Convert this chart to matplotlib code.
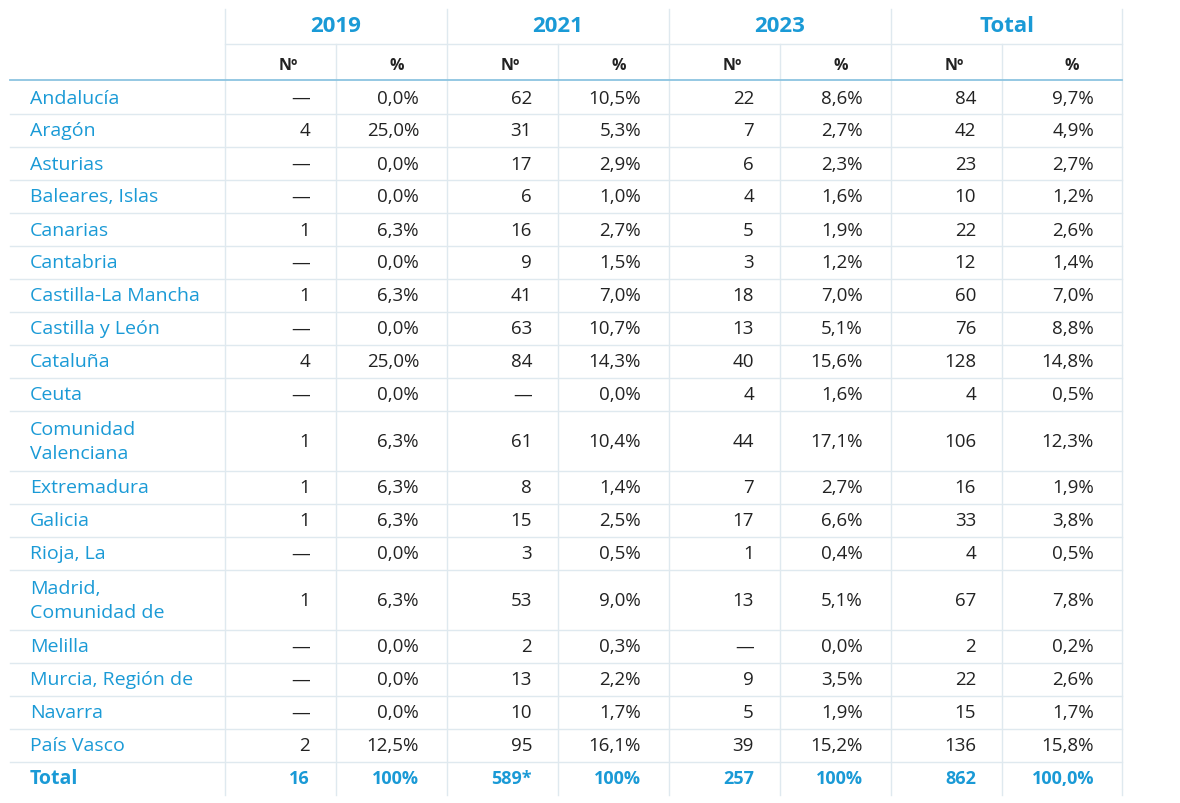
import matplotlib.pyplot as plt

regions = ["Andalucía", "Aragón", "Asturias", "Baleares, Islas", "Canarias", "Cantabria",
           "Castilla-La Mancha", "Castilla y León", "Cataluña", "Ceuta",
           "Comunidad\nValenciana", "Extremadura", "Galicia", "Rioja, La",
           "Madrid,\nComunidad de", "Melilla", "Murcia, Región de", "Navarra", "País Vasco"]
n2019 = ["—", "4", "—", "—", "1", "—", "1", "—", "4", "—", "1", "1", "1", "—", "1", "—", "—", "—", "2"]
p2019 = ["0,0%", "25,0%", "0,0%", "0,0%", "6,3%", "0,0%", "6,3%", "0,0%", "25,0%", "0,0%",
         "6,3%", "6,3%", "6,3%", "0,0%", "6,3%", "0,0%", "0,0%", "0,0%", "12,5%"]
n2021 = ["62", "31", "17", "6", "16", "9", "41", "63", "84", "—", "61", "8", "15", "3", "53", "2", "13", "10", "95"]
p2021 = ["10,5%", "5,3%", "2,9%", "1,0%", "2,7%", "1,5%", "7,0%", "10,7%", "14,3%", "0,0%",
         "10,4%", "1,4%", "2,5%", "0,5%", "9,0%", "0,3%", "2,2%", "1,7%", "16,1%"]
n2023 = ["22", "7", "6", "4", "5", "3", "18", "13", "40", "4", "44", "7", "17", "1", "13", "—", "9", "5", "39"]
p2023 = ["8,6%", "2,7%", "2,3%", "1,6%", "1,9%", "1,2%", "7,0%", "5,1%", "15,6%", "1,6%",
         "17,1%", "2,7%", "6,6%", "0,4%", "5,1%", "0,0%", "3,5%", "1,9%", "15,2%"]
ntot = ["84", "42", "23", "10", "22", "12", "60", "76", "128", "4", "106", "16", "33", "4", "67", "2", "22", "15", "136"]
ptot = ["9,7%", "4,9%", "2,7%", "1,2%", "2,6%", "1,4%", "7,0%", "8,8%", "14,8%", "0,5%",
        "12,3%", "1,9%", "3,8%", "0,5%", "7,8%", "0,2%", "2,6%", "1,7%", "15,8%"]
years = ["2019", "2021", "2023", "Total"]
total_row = ["16", "100%", "589*", "100%", "257", "100%", "862", "100,0%"]

BLUE = "#1a9ad6"
DARK = "#222222"
GRID = "#dfe9ef"
plt.rcParams['font.family'] = ['Open Sans', 'DejaVu Sans']

fig = plt.figure(figsize=(11.8, 8.04), dpi=100)
ax = fig.add_axes([0, 0, 1, 1])
ax.set_xlim(0, 1180)
ax.set_ylim(804, 0)
ax.axis('off')

col_edges = [225, 336, 447, 558, 669, 780, 891, 1002, 1122]
right_pad = [26, 28] * 4

# row boundaries
heights = [60 if "\n" in r else 33 for r in regions] + [33]
bounds = [82]
for h in heights:
    bounds.append(bounds[-1] + h)

# header
for i, y in enumerate(years):
    xc = (col_edges[2 * i] + col_edges[2 * i + 2]) / 2
    ax.text(xc, 27, y, ha='center', va='center', color=BLUE, fontsize=16, fontweight='bold')
ax.plot([225, 1122], [45, 45], color=GRID, lw=1)
for j in range(8):
    ax.text(col_edges[j + 1] - (48 if j % 2 == 0 else 50), 66, "Nº" if j % 2 == 0 else "%",
            ha='center', va='center', color=DARK, fontsize=11.5, fontweight='bold')
for x in col_edges:
    top = 10 if col_edges.index(x) % 2 == 0 else 45
    ax.plot([x, x], [top, bounds[-1]], color=GRID, lw=1)
ax.plot([10, 1122], [81, 81], color="#8cc4e0", lw=1.3)

cols = [n2019, p2019, n2021, p2021, n2023, p2023, ntot, ptot]
for r, name in enumerate(regions):
    y0, y1 = bounds[r], bounds[r + 1]
    yc = (y0 + y1) / 2
    ax.text(30, yc, name, ha='left', va='center', color=BLUE, fontsize=14, linespacing=1.45)
    for j, col in enumerate(cols):
        ax.text(col_edges[j + 1] - right_pad[j], yc, col[r], ha='right', va='center',
                color=DARK, fontsize=13.5)
    ax.plot([10, 1122], [y1, y1], color=GRID, lw=1)

yc = (bounds[-2] + bounds[-1]) / 2
ax.text(30, yc, "Total", ha='left', va='center', color=BLUE, fontsize=14, fontweight='bold')
for j, v in enumerate(total_row):
    ax.text(col_edges[j + 1] - right_pad[j], yc, v, ha='right', va='center',
            color=BLUE, fontsize=13, fontweight='bold')

fig.savefig("out.png", dpi=100)
